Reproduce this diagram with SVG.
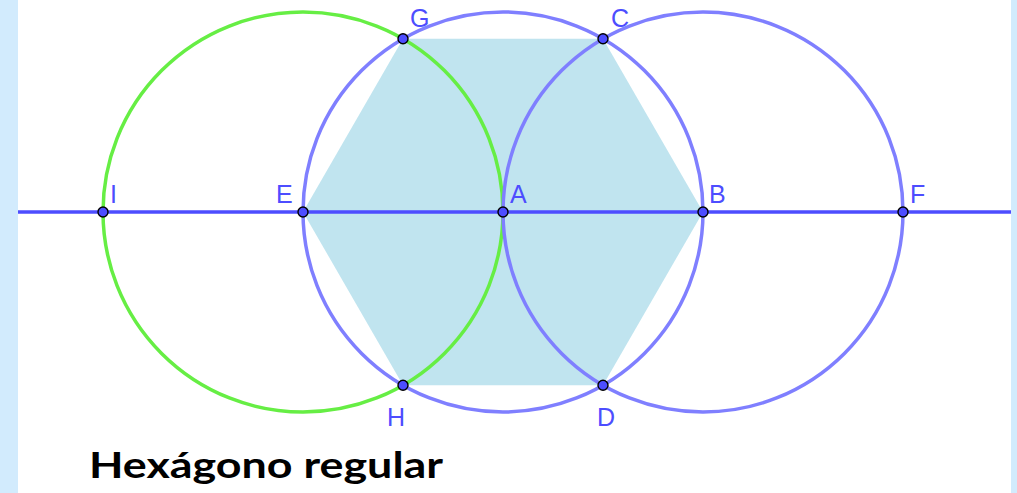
<svg xmlns="http://www.w3.org/2000/svg" width="1017" height="493" viewBox="0 0 1017 493">
<style>
.lbl{font-family:"Liberation Sans",Arial,sans-serif;font-size:25px;fill:#4d4dff}
.pt{fill:#4d4dff;stroke:#000;stroke-width:1.4}
.bc{fill:none;stroke:#7f7fff;stroke-width:3.5}
.gc{fill:none;stroke:#66ee44;stroke-width:3.5}
</style>
<rect x="0" y="0" width="1017" height="493" fill="#ffffff"/>
<rect x="0" y="0" width="18" height="493" fill="#d2ebfd"/>
<rect x="1011" y="0" width="6" height="493" fill="#d2ebfd"/>
<g id="hexagon"><polygon points="303,212 403,38.8 603,38.8 703,212 603,385.2 403,385.2" fill="#c0e4ef"/></g>
<g id="connectors">
<circle id="circleE" class="gc" cx="303" cy="212" r="200"/>
<circle id="circleA" class="bc" cx="503" cy="212" r="200"/>
<circle id="circleB" class="bc" cx="703" cy="212" r="200"/>
<line x1="18" y1="212" x2="1011" y2="212" stroke="#4d4dff" stroke-width="3.5"/>
</g>
<g id="I"><circle class="pt" cx="103" cy="212" r="5"/><text class="lbl" x="110" y="203">I</text></g>
<g id="E"><circle class="pt" cx="303" cy="212" r="5"/><text class="lbl" x="276" y="203">E</text></g>
<g id="A"><circle class="pt" cx="503" cy="212" r="5"/><text class="lbl" x="510" y="203">A</text></g>
<g id="B"><circle class="pt" cx="703" cy="212" r="5"/><text class="lbl" x="709" y="203">B</text></g>
<g id="F"><circle class="pt" cx="903" cy="212" r="5"/><text class="lbl" x="910" y="203">F</text></g>
<g id="G"><circle class="pt" cx="403" cy="38.8" r="5"/><text class="lbl" x="410" y="27">G</text></g>
<g id="C"><circle class="pt" cx="603" cy="38.8" r="5"/><text class="lbl" x="611" y="27">C</text></g>
<g id="H"><circle class="pt" cx="403" cy="385.2" r="5"/><text class="lbl" x="387" y="426">H</text></g>
<g id="D"><circle class="pt" cx="603" cy="385.2" r="5"/><text class="lbl" x="597" y="426">D</text></g>
<text x="89" y="478" font-family="Lato,'Open Sans',sans-serif" font-weight="bold" font-size="36" fill="#000" textLength="354" lengthAdjust="spacingAndGlyphs">Hexágono regular</text>
</svg>
